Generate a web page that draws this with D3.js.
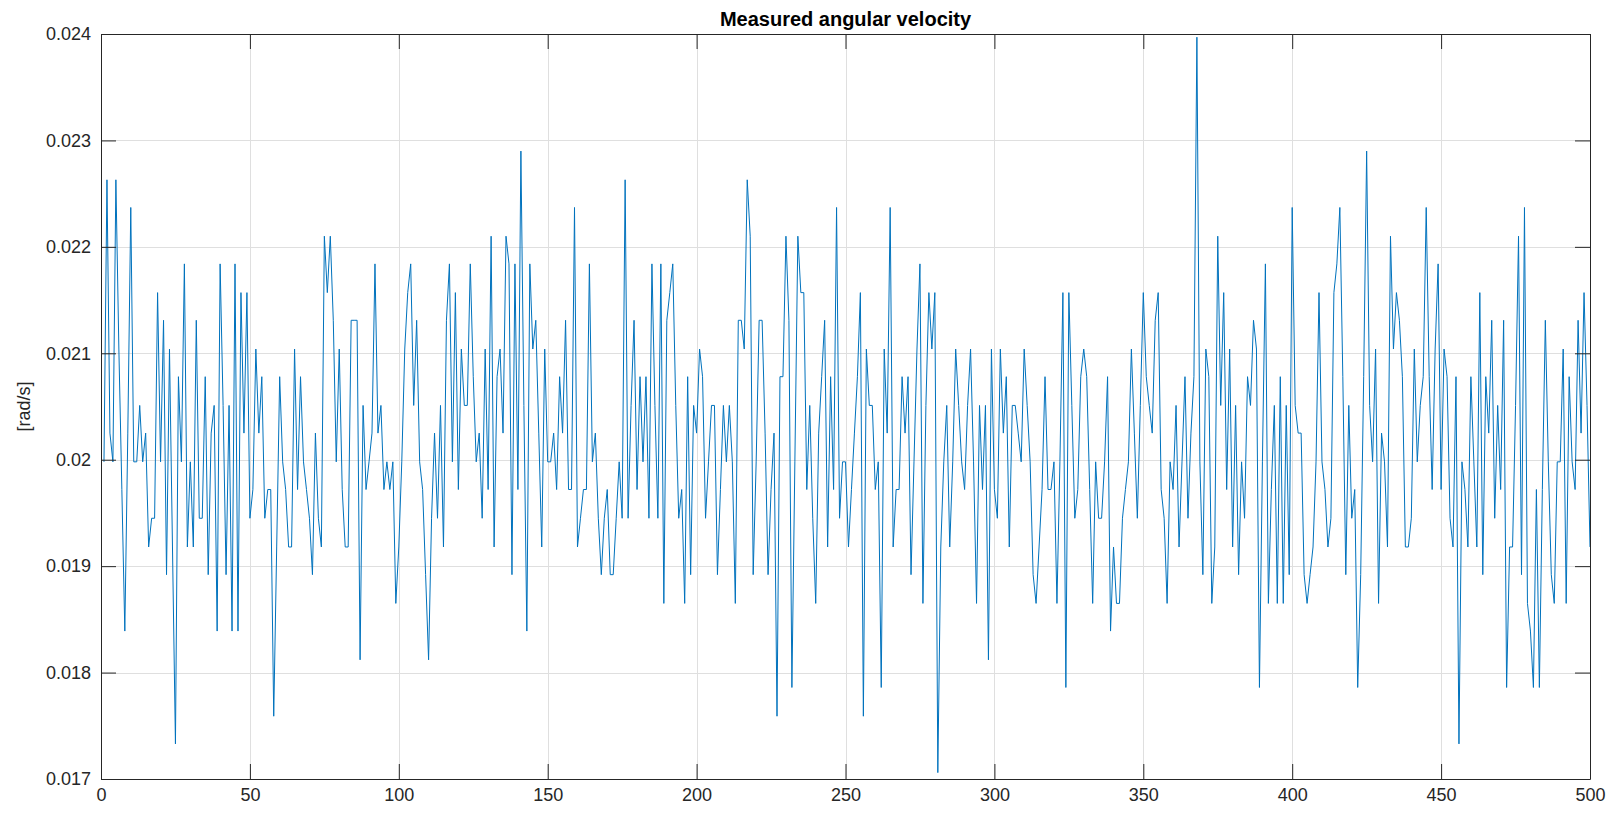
<!DOCTYPE html>
<html>
<head>
<meta charset="utf-8">
<script src="https://cdn.jsdelivr.net/npm/d3@7"></script>
<style>
  html, body { margin: 0; padding: 0; background: #ffffff; }
  svg { display: block; }
  text { font-family: "Liberation Sans", Arial, Helvetica, sans-serif; }
</style>
</head>
<body>
<svg id="chart" width="1614" height="813"></svg>
<script>
// Sample index axis (1..500) and measured gyro output in rad/s
const chartTitle = "Measured angular velocity";
const yLabel = "[rad/s]";
const xTicks = [0, 50, 100, 150, 200, 250, 300, 350, 400, 450, 500];
const yTicks = [0.017, 0.018, 0.019, 0.020, 0.021, 0.022, 0.023, 0.024];
const yTickLabels = ["0.017", "0.018", "0.019", "0.02", "0.021", "0.022", "0.023", "0.024"];

const omega = [
  0.01998, 0.02263, 0.02025, 0.01998, 0.02263, 0.02104, 0.01972, 0.01839, 0.02025, 0.02237,
  0.01998, 0.01998, 0.02051, 0.01998, 0.02025, 0.01918, 0.01945, 0.01945, 0.02157, 0.01998,
  0.02131, 0.01892, 0.02104, 0.01918, 0.01733, 0.02078, 0.01998, 0.02184, 0.01918, 0.01998,
  0.01918, 0.02131, 0.01945, 0.01945, 0.02078, 0.01892, 0.02025, 0.02051, 0.01839, 0.02184,
  0.02051, 0.01892, 0.02051, 0.01839, 0.02184, 0.01839, 0.02157, 0.02025, 0.02157, 0.01945,
  0.01972, 0.02104, 0.02025, 0.02078, 0.01945, 0.01972, 0.01972, 0.01759, 0.01918, 0.02078,
  0.01998, 0.01972, 0.01918, 0.01918, 0.02104, 0.01972, 0.02078, 0.01998, 0.01972, 0.01945,
  0.01892, 0.02025, 0.01945, 0.01918, 0.02210, 0.02157, 0.02210, 0.02131, 0.01998, 0.02104,
  0.01972, 0.01918, 0.01918, 0.02131, 0.02131, 0.02131, 0.01812, 0.02051, 0.01972, 0.01998,
  0.02025, 0.02184, 0.02025, 0.02051, 0.01972, 0.01998, 0.01972, 0.01998, 0.01865, 0.01918,
  0.01998, 0.02104, 0.02157, 0.02184, 0.02051, 0.02131, 0.01998, 0.01972, 0.01892, 0.01812,
  0.01945, 0.02025, 0.01945, 0.02051, 0.01918, 0.02131, 0.02184, 0.01998, 0.02157, 0.01972,
  0.02104, 0.02051, 0.02051, 0.02184, 0.02078, 0.01998, 0.02025, 0.01945, 0.02104, 0.01972,
  0.02210, 0.01918, 0.02078, 0.02104, 0.02025, 0.02210, 0.02184, 0.01892, 0.02184, 0.01972,
  0.02290, 0.02051, 0.01839, 0.02184, 0.02104, 0.02131, 0.02025, 0.01918, 0.02104, 0.01998,
  0.01998, 0.02025, 0.01972, 0.02078, 0.02025, 0.02131, 0.01972, 0.01972, 0.02237, 0.01918,
  0.01945, 0.01972, 0.01972, 0.02184, 0.01998, 0.02025, 0.01945, 0.01892, 0.01945, 0.01972,
  0.01892, 0.01892, 0.01945, 0.01998, 0.01945, 0.02263, 0.01945, 0.02051, 0.02131, 0.01972,
  0.02078, 0.01998, 0.02078, 0.01945, 0.02184, 0.02051, 0.01945, 0.02184, 0.01865, 0.02131,
  0.02157, 0.02184, 0.02051, 0.01945, 0.01972, 0.01865, 0.02078, 0.01892, 0.02051, 0.02025,
  0.02104, 0.02078, 0.01945, 0.01998, 0.02051, 0.02051, 0.01892, 0.01972, 0.02051, 0.01998,
  0.02051, 0.01998, 0.01865, 0.02131, 0.02131, 0.02104, 0.02263, 0.02210, 0.01892, 0.01998,
  0.02131, 0.02131, 0.02025, 0.01892, 0.01972, 0.02025, 0.01759, 0.02078, 0.02078, 0.02210,
  0.02131, 0.01786, 0.01998, 0.02210, 0.02157, 0.02157, 0.01972, 0.02051, 0.01945, 0.01865,
  0.02025, 0.02078, 0.02131, 0.01918, 0.02078, 0.01972, 0.02237, 0.01945, 0.01998, 0.01998,
  0.01918, 0.01972, 0.02025, 0.02078, 0.02157, 0.01759, 0.02104, 0.02051, 0.02051, 0.01972,
  0.01998, 0.01786, 0.02104, 0.02025, 0.02237, 0.01918, 0.01972, 0.01972, 0.02078, 0.02025,
  0.02078, 0.01892, 0.01998, 0.02104, 0.02184, 0.01865, 0.02051, 0.02157, 0.02104, 0.02157,
  0.01706, 0.01918, 0.01998, 0.02051, 0.01918, 0.01998, 0.02104, 0.02051, 0.01998, 0.01972,
  0.02051, 0.02104, 0.01998, 0.01865, 0.02051, 0.01972, 0.02051, 0.01812, 0.02104, 0.01972,
  0.01945, 0.02104, 0.02025, 0.02078, 0.01918, 0.02051, 0.02051, 0.02025, 0.01998, 0.02104,
  0.02051, 0.01998, 0.01892, 0.01865, 0.01918, 0.01972, 0.02078, 0.01972, 0.01972, 0.01998,
  0.01865, 0.01998, 0.02157, 0.01786, 0.02157, 0.02051, 0.01945, 0.01972, 0.02078, 0.02104,
  0.02078, 0.01972, 0.01865, 0.01998, 0.01945, 0.01945, 0.01998, 0.02078, 0.01839, 0.01918,
  0.01865, 0.01865, 0.01945, 0.01972, 0.01998, 0.02104, 0.02025, 0.01945, 0.02051, 0.02157,
  0.02078, 0.02051, 0.02025, 0.02131, 0.02157, 0.01972, 0.01945, 0.01865, 0.01998, 0.01972,
  0.02051, 0.01918, 0.01998, 0.02078, 0.01945, 0.02025, 0.02078, 0.02397, 0.01998, 0.01892,
  0.02104, 0.02078, 0.01865, 0.01918, 0.02210, 0.02051, 0.02157, 0.01972, 0.02104, 0.01918,
  0.02051, 0.01892, 0.01998, 0.01945, 0.02078, 0.02051, 0.02131, 0.02104, 0.01786, 0.01998,
  0.02184, 0.01865, 0.01972, 0.02051, 0.01865, 0.02078, 0.01865, 0.02051, 0.01892, 0.02237,
  0.02051, 0.02025, 0.02025, 0.01892, 0.01865, 0.01892, 0.01918, 0.01998, 0.02157, 0.01998,
  0.01972, 0.01918, 0.01945, 0.02157, 0.02184, 0.02237, 0.02078, 0.01892, 0.02051, 0.01945,
  0.01972, 0.01786, 0.01892, 0.02078, 0.02290, 0.02051, 0.01998, 0.02104, 0.01865, 0.02025,
  0.01998, 0.01918, 0.02210, 0.02104, 0.02157, 0.02131, 0.02078, 0.01918, 0.01918, 0.01945,
  0.02104, 0.01998, 0.02051, 0.02078, 0.02237, 0.02078, 0.01972, 0.02104, 0.02184, 0.01972,
  0.02104, 0.02078, 0.01945, 0.01918, 0.02078, 0.01733, 0.01998, 0.01972, 0.01918, 0.02078,
  0.01998, 0.01918, 0.02157, 0.01892, 0.02078, 0.02025, 0.02131, 0.01945, 0.02051, 0.01972,
  0.02131, 0.01786, 0.01918, 0.01918, 0.02051, 0.02210, 0.01892, 0.02237, 0.01865, 0.01839,
  0.01786, 0.01972, 0.01786, 0.01972, 0.02131, 0.01998, 0.01892, 0.01865, 0.01998, 0.01998,
  0.02104, 0.01865, 0.02078, 0.01998, 0.01972, 0.02131, 0.02025, 0.02157, 0.02051, 0.01918
];

const W = 1614, H = 813;
const margin = { left: 101, right: W - 1590, top: 34, bottom: H - 779 };
const plotW = W - margin.left - margin.right;
const plotH = H - margin.top - margin.bottom;

const axisColor = "#262626";
const gridColor = "#dfdfdf";
const lineColor = "#0072bd";
const tickLen = 15;
const tickFont = 18;

const svg = d3.select("#chart");
svg.append("rect").attr("width", W).attr("height", H).attr("fill", "#ffffff");

const g = svg.append("g").attr("transform", `translate(${margin.left},${margin.top})`);

const x = d3.scaleLinear().domain([0, 500]).range([0, plotW]);
const y = d3.scaleLinear().domain([0.017, 0.024]).range([plotH, 0]);

// grid
g.append("g").selectAll("line").data(xTicks.slice(1, -1)).join("line")
  .attr("x1", d => Math.round(x(d)) + 0.5).attr("x2", d => Math.round(x(d)) + 0.5)
  .attr("y1", 0).attr("y2", plotH)
  .attr("stroke", gridColor).attr("stroke-width", 1);
g.append("g").selectAll("line").data(yTicks.slice(1, -1)).join("line")
  .attr("y1", d => Math.round(y(d)) + 0.5).attr("y2", d => Math.round(y(d)) + 0.5)
  .attr("x1", 0).attr("x2", plotW)
  .attr("stroke", gridColor).attr("stroke-width", 1);

// data trace
const pts = omega.map((v, i) => [i + 1, v]);
const line = d3.line().x(d => x(d[0])).y(d => y(d[1]));
g.append("path").datum(pts)
  .attr("d", line)
  .attr("fill", "none")
  .attr("stroke", lineColor)
  .attr("stroke-width", 1)
  .attr("stroke-linejoin", "miter")
  .attr("stroke-miterlimit", 2);

// axes: inward ticks on all four sides, labels on bottom and left only
const fmtY = d => yTickLabels[yTicks.indexOf(d)];
function styleAxis(sel) {
  sel.select(".domain").attr("stroke", axisColor).attr("stroke-width", 1);
  sel.selectAll(".tick line").attr("stroke", axisColor).attr("stroke-width", 1);
  sel.selectAll(".tick text").attr("fill", axisColor).attr("font-size", tickFont)
    .attr("font-family", "'Liberation Sans', Arial, Helvetica, sans-serif");
}

const xBottom = g.append("g").attr("transform", `translate(0,${plotH})`)
  .call(d3.axisBottom(x).tickValues(xTicks).tickSizeInner(-tickLen).tickSizeOuter(0).tickPadding(9));
styleAxis(xBottom);

const xTop = g.append("g")
  .call(d3.axisTop(x).tickValues(xTicks).tickSizeInner(-tickLen).tickSizeOuter(0).tickFormat(""));
styleAxis(xTop);

const yLeft = g.append("g")
  .call(d3.axisLeft(y).tickValues(yTicks).tickFormat(fmtY).tickSizeInner(-tickLen).tickSizeOuter(0).tickPadding(10));
styleAxis(yLeft);

const yRight = g.append("g").attr("transform", `translate(${plotW},0)`)
  .call(d3.axisRight(y).tickValues(yTicks).tickSizeInner(-tickLen).tickSizeOuter(0).tickFormat(""));
styleAxis(yRight);

// title
svg.append("text")
  .attr("x", margin.left + plotW / 2).attr("y", 26)
  .attr("text-anchor", "middle")
  .attr("font-size", 20).attr("font-weight", "bold")
  .attr("fill", "#000000")
  .text(chartTitle);

// y label
svg.append("text")
  .attr("transform", `translate(30,${margin.top + plotH / 2}) rotate(-90)`)
  .attr("text-anchor", "middle")
  .attr("font-size", 18)
  .attr("fill", axisColor)
  .text(yLabel);
</script>
</body>
</html>
